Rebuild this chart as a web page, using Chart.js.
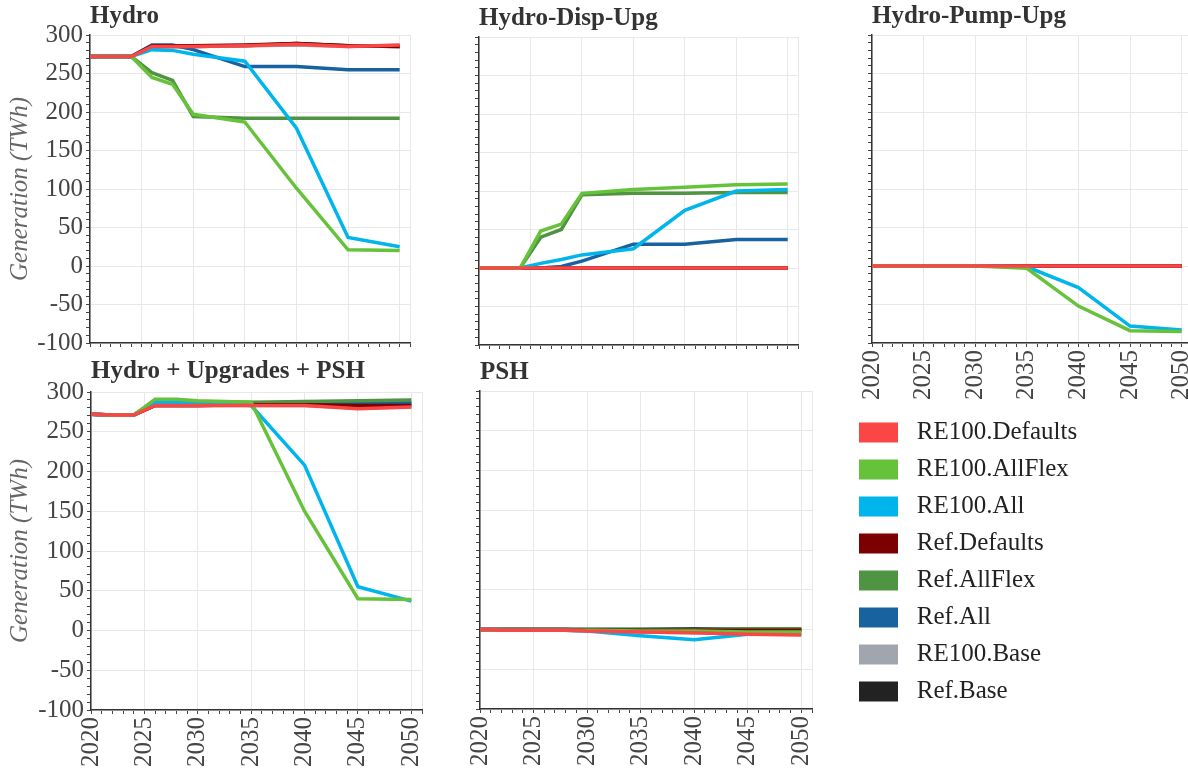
<!DOCTYPE html>
<html>
<head>
<meta charset="utf-8">
<title>Hydro generation by scenario</title>
<script src="https://cdn.jsdelivr.net/npm/chart.js@4.4.1/dist/chart.umd.min.js"></script>
<style>
  html, body { margin: 0; padding: 0; background: #fff; }
  body { width: 1188px; height: 769px; position: relative; overflow: hidden; }
  canvas { position: absolute; }
</style>
</head>
<body>
<canvas id="hydro" width="420" height="363" style="left:0;top:0"></canvas>
<canvas id="dispUpg" width="368" height="363" style="left:440px;top:2px"></canvas>
<canvas id="pumpUpg" width="402" height="403" style="left:830px;top:0"></canvas>
<canvas id="total" width="462" height="414" style="left:0;top:356px"></canvas>
<canvas id="psh" width="412" height="413" style="left:440px;top:356px"></canvas>
<canvas id="legend" width="320" height="320" style="left:847px;top:408px"></canvas>

<script>
// model years and scenarios
const years = [2020, 2022, 2024, 2026, 2028, 2030, 2035, 2040, 2045, 2050];
const seriesNames = ['RE100.Defaults', 'RE100.AllFlex', 'RE100.All', 'Ref.Defaults',
  'Ref.AllFlex', 'Ref.All', 'RE100.Base', 'Ref.Base'];
const seriesColors = ['#fb4646', '#66c23a', '#00b4ec', '#7d0000',
  '#4f9443', '#17629f', '#a1a6ae', '#222222'];

const xLabelYears = [2020, 2025, 2030, 2035, 2040, 2045, 2050];
const yLabelValues = [-100, -50, 0, 50, 100, 150, 200, 250, 300];

// TWh, one row per scenario (same order as seriesNames)
const hydro = [
  [272, 272, 272, 285, 285, 285, 286, 288, 285, 287],
  [272, 272, 272, 245, 236, 197, 187, 101, 21, 20],
  [272, 272, 272, 281, 280, 275, 266, 179, 37, 25],
  [272, 272, 272, 286, 286, 286, 287, 289, 286, 285],
  [272, 272, 272, 251, 241, 194, 192, 192, 192, 192],
  [272, 272, 272, 287, 287, 281, 259, 259, 255, 255],
  [272, 272, 272, 285, 285, 285, 286, 287, 285, 286],
  [272, 272, 272, 285, 285, 285, 286, 289, 286, 285]
];
const dispUpg = [
  [0, 0, 0, 0, 0, 0, 0, 0, 0, 0],
  [0, 0, 0, 48, 57, 97, 102, 105, 108, 109],
  [0, 0, 0, 6, 11, 17, 25, 75, 100, 102],
  [0, 0, 0, 0, 0, 0, 0, 0, 0, 0],
  [0, 0, 0, 40, 50, 95, 97, 97, 98, 98],
  [0, 0, 0, 0, 2, 9, 31, 31, 37, 37],
  [0, 0, 0, 0, 0, 0, 0, 0, 0, 0],
  [0, 0, 0, 0, 0, 0, 0, 0, 0, 0]
];
const pumpUpg = [
  [0, 0, 0, 0, 0, 0, 0, 0, 0, 0],
  [0, 0, 0, 0, 0, 0, -3, -52, -84, -85],
  [0, 0, 0, 0, 0, 0, -1, -28, -78, -83],
  [0, 0, 0, 0, 0, 0, 0, 0, 0, 0],
  [0, 0, 0, 0, 0, 0, 0, 0, 0, 0],
  [0, 0, 0, 0, 0, 0, 0, 0, 0, 0],
  [0, 0, 0, 0, 0, 0, 0, 0, 0, 0],
  [0, 0, 0, 0, 0, 0, 0, 0, 0, 0]
];
const total = [
  [272, 271, 271, 283, 283, 283, 283, 283, 279, 281],
  [272, 271, 271, 291, 291, 289, 287, 150, 40, 39],
  [272, 271, 271, 287, 287, 286, 283, 208, 55, 37],
  [272, 271, 271, 283, 283, 283, 284, 284, 283, 283],
  [272, 271, 271, 289, 289, 288, 287, 288, 289, 290],
  [272, 271, 271, 286, 286, 285, 285, 286, 287, 287],
  [272, 271, 271, 283, 283, 283, 283, 283, 280, 281],
  [272, 271, 271, 283, 283, 283, 284, 285, 284, 285]
];
const psh = [
  [0, -1, -1, -1, -1, -2, -3, -4, -6, -7],
  [0, -1, -1, -1, -1, -1, -2, -2, -3, -3],
  [0, -1, -1, -1, -1, -2, -8, -13, -6, -5],
  [0, 0, 0, 0, 0, -1, -1, -1, -1, -1],
  [0, 0, 0, 0, 0, 0, 0, 0, 1, 1],
  [0, 0, 0, 0, 0, 0, 0, 0, 0, 0],
  [0, -1, -1, -1, -1, -2, -3, -4, -5, -6],
  [0, 0, 0, 0, 0, 0, 0, 1, 0, 0]
];

Chart.defaults.font.family = '"Liberation Serif", "Times New Roman", serif';
Chart.defaults.color = '#444';

const gridLight = '#e8e8e8';
const clear = 'rgba(0,0,0,0)';

function makePanel(id, title, values, cfg) {
  const datasets = seriesNames.map((name, i) => ({
    label: name,
    data: years.map((yr, j) => ({ x: yr, y: values[i][j] })),
    borderColor: seriesColors[i],
    backgroundColor: seriesColors[i],
    borderWidth: 3.5,
    pointRadius: 0,
    tension: 0
  }));

  new Chart(document.getElementById(id), {
    type: 'line',
    data: { datasets: datasets },
    options: {
      responsive: false,
      animation: false,
      layout: { padding: { top: 0, left: 0, bottom: 0, right: cfg.padRight } },
      plugins: {
        legend: { display: false },
        tooltip: { enabled: false },
        title: {
          display: true,
          text: title,
          align: 'start',
          fullSize: false,
          color: '#333',
          font: { size: 25, weight: 'bold', lineHeight: 1.2 },
          padding: { top: cfg.titleTop, bottom: cfg.titleBottom }
        }
      },
      scales: {
        x: {
          type: 'linear',
          min: 2020,
          max: 2051,
          border: { color: '#333', width: 1.5 },
          grid: {
            color: c => (c.tick.value % 5 === 0 || c.tick.value === 2051) ? gridLight : clear,
            tickColor: '#444',
            tickLength: 4
          },
          ticks: {
            display: cfg.xLabels,
            stepSize: 1,
            autoSkip: false,
            minRotation: 90,
            maxRotation: 90,
            padding: 3,
            font: { size: 25 },
            callback: v => xLabelYears.includes(v) ? String(v) : ''
          },
          afterFit: s => { s.height = cfg.xHeight; }
        },
        y: {
          min: -100,
          max: 300,
          border: { color: '#333', width: 1.5 },
          grid: {
            color: c => yLabelValues.includes(c.tick.value) ? gridLight : clear,
            tickColor: '#444',
            tickLength: 4
          },
          ticks: {
            display: cfg.yLabels,
            stepSize: 10,
            autoSkip: false,
            padding: 3,
            font: { size: 25 },
            callback: v => yLabelValues.includes(v) ? String(v) : ''
          },
          title: {
            display: cfg.yLabels,
            text: 'Generation (TWh)',
            color: '#666',
            font: { size: 25, style: 'italic', lineHeight: 1.2 },
            padding: { top: 5, bottom: 0 }
          },
          afterFit: s => { s.width = cfg.yWidth; }
        }
      }
    }
  });
}

makePanel('hydro', 'Hydro', hydro,
  { yWidth: 90, xHeight: 20, padRight: 10, titleTop: 2, titleBottom: 3, yLabels: true, xLabels: false });
makePanel('dispUpg', 'Hydro-Disp-Upg', dispUpg,
  { yWidth: 39, xHeight: 20, padRight: 10, titleTop: 2, titleBottom: 3, yLabels: false, xLabels: false });
makePanel('pumpUpg', 'Hydro-Pump-Upg', pumpUpg,
  { yWidth: 42, xHeight: 60, padRight: 40, titleTop: 2, titleBottom: 3, yLabels: false, xLabels: true });
makePanel('total', 'Hydro + Upgrades + PSH', total,
  { yWidth: 91, xHeight: 60, padRight: 40, titleTop: 1, titleBottom: 5, yLabels: true, xLabels: true });
makePanel('psh', 'PSH', psh,
  { yWidth: 40, xHeight: 60, padRight: 40, titleTop: 2, titleBottom: 3, yLabels: false, xLabels: true });

// legend on its own canvas
new Chart(document.getElementById('legend'), {
  type: 'line',
  data: {
    datasets: seriesNames.map((name, i) => ({
      label: name,
      data: [],
      borderColor: seriesColors[i],
      backgroundColor: seriesColors[i],
      borderWidth: 0
    }))
  },
  options: {
    responsive: false,
    animation: false,
    scales: { x: { display: false }, y: { display: false } },
    plugins: {
      tooltip: { enabled: false },
      legend: {
        position: 'left',
        align: 'start',
        maxWidth: 320,
        labels: {
          boxWidth: 39,
          boxHeight: 20,
          padding: 12,
          color: '#222',
          font: { size: 25 },
          // a little more gap between swatch and text
          generateLabels: chart => Chart.defaults.plugins.legend.labels.generateLabels(chart)
            .map(item => Object.assign(item, { text: ' ' + item.text }))
        }
      }
    }
  }
});
</script>
</body>
</html>
